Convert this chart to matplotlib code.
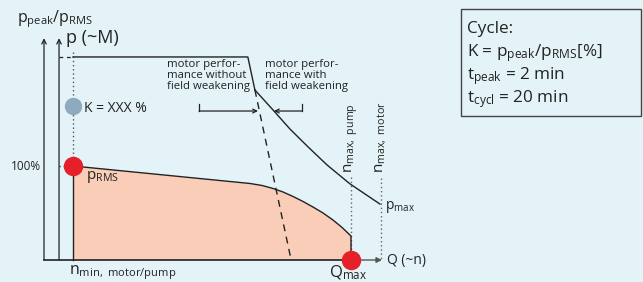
import matplotlib
matplotlib.use("Agg")
import matplotlib.pyplot as plt
import numpy as np

plt.rcParams['font.family'] = ['Open Sans', 'DejaVu Sans']
plt.rcParams['mathtext.fontset'] = 'custom'
plt.rcParams['mathtext.rm'] = 'Open Sans'
plt.rcParams['mathtext.it'] = 'Open Sans'

# ---- data (speed n in % of Q_max speed, pressure p in % of p_RMS) ----
n_min = 9.45
n_axis2 = 4.9
n_max_pump = 100.0
n_max_motor = 109.8
p_peak = 216.0

# motor performance: constant top, then kink
top_n = [n_min, 66.4, 68.7]
top_p = [p_peak, p_peak, 180.9]
# with field weakening
fw_n = [68.7, 74.6, 80.1, 85.7, 92.2, 99.7, 109.4]
fw_p = [180.9, 159.6, 139.4, 121.3, 101.1, 80.9, 59.6]
# without field weakening
nofw_n = [68.7, 80.5]
nofw_p = [180.9, 0.0]
# RMS curve
rms_n = [n_min, 67.1, 71.0, 74.6, 77.9, 81.1, 84.4, 87.6, 90.9, 94.1, 97.1, 100.0, 100.0]
rms_p = [100.0, 81.4, 79.3, 76.1, 72.3, 67.6, 62.2, 56.4, 50.0, 42.6, 34.6, 25.5, 0.0]
K_p = 164.0

BG = '#e4f3f8'
PINK = '#f9cdb7'
RED = '#e5202b'
DARK = '#222222'

fig = plt.figure(figsize=(6.43, 2.82), dpi=100, facecolor=BG)
ax = fig.add_axes([0, 0, 1, 1])
ax.set_facecolor(BG)
ax.set_xlim(-14.33, 195.11)
ax.set_ylim(-23.40, 276.60)
ax.axis('off')

# pink RMS area
ax.fill_between(rms_n, 0, rms_p, color=PINK, lw=0, zorder=1)
ax.plot(rms_n, rms_p, color=DARK, lw=1.0, zorder=3, solid_joinstyle='round')
ax.plot([n_min, n_min], [0, 100], color=DARK, lw=1.0, zorder=3)

# motor curves
ax.plot(top_n, top_p, color=DARK, lw=1.0, zorder=3)
ax.plot(fw_n, fw_p, color=DARK, lw=1.0, zorder=3, solid_joinstyle='round')
ax.plot(nofw_n, nofw_p, color=DARK, lw=1.0, ls=(0, (5, 4)), zorder=3)
ax.plot([n_axis2, n_min], [p_peak, p_peak], color=DARK, lw=0.9, ls=(0, (3, 3)), zorder=3)

# dotted verticals
ax.plot([n_min, n_min], [221, 100], color='#555555', lw=1.0, ls=(0, (1, 2)), zorder=2)
ax.plot([n_axis2, n_min], [100, 100], color='#555555', lw=1.0, ls=(0, (1, 2)), zorder=2)
ax.plot([n_max_pump, n_max_pump], [88, 0], color='#666666', lw=1.0, ls=(0, (1, 2)), zorder=2)
ax.plot([n_max_motor, n_max_motor], [87, 0], color='#666666', lw=1.0, ls=(0, (1, 2)), zorder=2)

# axes arrows
arrow_kw = dict(arrowstyle='->', color=DARK, lw=0.9, mutation_scale=8, shrinkA=0, shrinkB=0)
ax.annotate('', xy=(0, 236), xytext=(0, 0), arrowprops=arrow_kw, zorder=4)
ax.annotate('', xy=(n_axis2, 236), xytext=(n_axis2, 0), arrowprops=arrow_kw, zorder=4)
ax.plot([0, 100], [0, 0], color=DARK, lw=1.2, zorder=4)
ax.annotate('', xy=(110.1, 0), xytext=(100, 0),
            arrowprops=dict(arrowstyle='-|>', color='#555555', lw=1.0, mutation_scale=8,
                            shrinkA=0, shrinkB=0), zorder=4)

# markers
ax.plot([n_min], [100], 'o', color=RED, ms=13, zorder=5)
ax.plot([n_max_pump], [0], 'o', color=RED, ms=13, zorder=5)
ax.plot([n_min], [K_p], 'o', color='#8fa9bf', ms=11.5, zorder=5)

# brackets
ax.plot([50.5, 50.5], [166, 158.5], color=DARK, lw=0.9)
ax.annotate('', xy=(69.7, 158.5), xytext=(50.5, 158.5),
            arrowprops=dict(arrowstyle='->', color=DARK, lw=0.9, mutation_scale=7, shrinkA=0, shrinkB=0))
ax.plot([84.0, 84.0], [166, 158.5], color=DARK, lw=0.9)
ax.annotate('', xy=(74.9, 158.5), xytext=(84.0, 158.5),
            arrowprops=dict(arrowstyle='->', color=DARK, lw=0.9, mutation_scale=7, shrinkA=0, shrinkB=0))

# texts
TC = '#222222'
ax.text(-8.8, 256.4, r'$\mathrm{p_{peak}/p_{RMS}}$', fontsize=11.5, color=TC, ha='left', va='center')
ax.text(7.2, 236.2, 'p (~M)', fontsize=13, color=TC, ha='left', va='center')
ax.text(13.0, 161.7, 'K = XXX %', fontsize=10, color=TC, ha='left', va='center')
ax.text(-1.0, 100, '100%', fontsize=8.5, color=TC, ha='right', va='center')
ax.text(13.7, 88.3, r'$\mathrm{p_{RMS}}$', fontsize=11, color=TC, ha='left', va='center')
ax.text(8.1, -13.2, r'$\mathrm{n_{min,\ motor/pump}}$', fontsize=11.5, color=TC, ha='left', va='center')
ax.text(99.0, -13.5, r'$\mathrm{Q_{max}}$', fontsize=12, color=TC, ha='center', va='center')
ax.text(111.7, 0, 'Q (~n)', fontsize=10, color=TC, ha='left', va='center')
ax.text(111.1, 56.4, r'$\mathrm{p_{max}}$', fontsize=10, color=TC, ha='left', va='center')
ax.text(n_max_pump, 92.6, r'$\mathrm{n_{max,\ pump}}$', fontsize=11, color=TC, rotation=90,
        ha='center', va='bottom')
ax.text(n_max_motor, 92.6, r'$\mathrm{n_{max,\ motor}}$', fontsize=11, color=TC, rotation=90,
        ha='center', va='bottom')
ax.text(40.1, 214.0, 'motor perfor-\nmance without\nfield weakening', fontsize=8.2, color=TC,
        ha='left', va='top', linespacing=1.0)
ax.text(72.0, 214.0, 'motor perfor-\nmance with\nfield weakening', fontsize=8.2, color=TC,
        ha='left', va='top', linespacing=1.0)

# info box
box = plt.Rectangle((0.717, 0.589), 0.280, 0.379, transform=fig.transFigure,
                    facecolor=BG, edgecolor='#444444', lw=1.0)
fig.patches.append(box)
bx = 0.727
fs = 12.3
fig.text(bx, 1 - 29 / 282, 'Cycle:', fontsize=fs, color=TC, va='center', ha='left')
fig.text(bx, 1 - 53 / 282, r'K = $\mathrm{p_{peak}/p_{RMS}}$[%]', fontsize=fs, color=TC, va='center', ha='left')
fig.text(bx, 1 - 76 / 282, r'$\mathrm{t_{peak}}$ = 2 min', fontsize=fs, color=TC, va='center', ha='left')
fig.text(bx, 1 - 99 / 282, r'$\mathrm{t_{cycl}}$ = 20 min', fontsize=fs, color=TC, va='center', ha='left')

fig.savefig('out.png', dpi=100, facecolor=BG)
